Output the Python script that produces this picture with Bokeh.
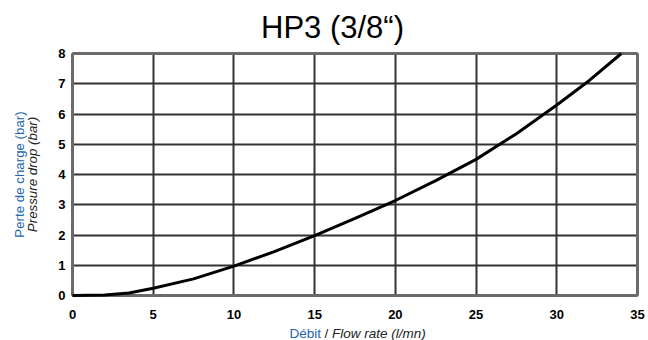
import math
from bokeh.plotting import figure
from bokeh.models import Label, Range1d, FixedTicker, Grid
from bokeh.embed import file_html
from bokeh.resources import INLINE

# Data
flow_rate = [0, 2, 3.5, 5, 7.5, 10, 12.5, 15, 17.5, 20, 22.5, 25, 27.5, 30, 32, 34]
pressure_drop = [0, 0.02, 0.08, 0.24, 0.55, 0.97, 1.45, 1.98, 2.55, 3.14, 3.8, 4.5, 5.35, 6.3, 7.1, 8.0]
x_ticks = [0, 5, 10, 15, 20, 25, 30, 35]
y_ticks = [0, 1, 2, 3, 4, 5, 6, 7, 8]
x_limits = (0, 35)
y_limits = (0, 8)

title_text = "HP3 (3/8\u201c)"
ylabel_fr = "Perte de charge (bar)"
ylabel_en = "Pressure drop (bar)"
xlabel_fr = "D\u00e9bit"
xlabel_sep = "/"
xlabel_en = "Flow rate (l/mn)"

FONT = "Liberation Sans"
BLUE = "#2266b0"
DARK = "#222222"

W, H = 648, 340
# plot area in pixels: left 72, right 637, top 53, bottom 295
px_per_x = (637 - 72) / (x_limits[1] - x_limits[0])
px_per_y = (295 - 53) / (y_limits[1] - y_limits[0])
x_range = Range1d(x_limits[0] - 72 / px_per_x, x_limits[1] + (W - 637) / px_per_x)
y_range = Range1d(y_limits[0] - (H - 295) / px_per_y, y_limits[1] + 53 / px_per_y)

def dx(px):
    return x_limits[0] + (px - 72) / px_per_x

def dy(py):
    return y_limits[0] + (295 - py) / px_per_y

p = figure(width=W, height=H, output_backend="svg", toolbar_location=None,
           x_range=x_range, y_range=y_range,
           min_border=0, min_border_left=0, min_border_right=0,
           min_border_top=0, min_border_bottom=0)
p.background_fill_color = "white"
p.border_fill_color = "white"
p.outline_line_color = None

for ax in (p.xaxis, p.yaxis):
    ax.fixed_location = 0
    ax.axis_line_color = None
    ax.major_tick_line_color = None
    ax.minor_tick_line_color = None
    ax.major_tick_out = 0
    ax.major_tick_in = 0
    ax.major_label_text_font = FONT
    ax.major_label_text_font_style = "bold"
    ax.major_label_text_font_size = "13px"
    ax.major_label_text_color = "black"

p.xaxis.ticker = FixedTicker(ticks=x_ticks)
p.yaxis.ticker = FixedTicker(ticks=y_ticks)
p.xaxis.bounds = x_limits
p.yaxis.bounds = y_limits
p.xaxis.major_label_standoff = 14
p.yaxis.major_label_standoff = 7

p.xgrid.ticker = FixedTicker(ticks=x_ticks)
p.ygrid.ticker = FixedTicker(ticks=y_ticks)
p.xgrid.bounds = x_limits
p.ygrid.bounds = y_limits
p.xgrid.cross_bounds = y_limits
p.ygrid.cross_bounds = x_limits
for g in (p.xgrid, p.ygrid):
    g.grid_line_color = "#333333"
    g.grid_line_width = 2
    g.grid_line_alpha = 1.0

# frame border (thicker, grey)
bx = Grid(dimension=0, ticker=FixedTicker(ticks=list(x_limits)), bounds=x_limits,
          cross_bounds=y_limits, grid_line_color="#6a6a6a", grid_line_width=3)
by = Grid(dimension=1, ticker=FixedTicker(ticks=list(y_limits)), bounds=y_limits,
          cross_bounds=x_limits, grid_line_color="#6a6a6a", grid_line_width=3)
p.add_layout(bx)
p.add_layout(by)

p.line(flow_rate, pressure_drop, line_color="black", line_width=3)

# Title
p.add_layout(Label(x=dx(332), y=dy(26.5), text=title_text, text_font=FONT,
                   text_font_size="31px", text_color="black",
                   text_align="center", text_baseline="alphabetic"))

# Y labels (rotated)
p.add_layout(Label(x=dx(18.5), y=sum(y_limits) / 2, text=ylabel_fr, angle=math.pi / 2,
                   text_font=FONT, text_font_size="13.3px", text_color=BLUE,
                   text_align="center", text_baseline="middle"))
p.add_layout(Label(x=dx(32), y=sum(y_limits) / 2, text=ylabel_en, angle=math.pi / 2,
                   text_font=FONT, text_font_size="13.3px", text_color=DARK,
                   text_font_style="italic",
                   text_align="center", text_baseline="middle"))

# X label pieces
xl_y = dy(332.5)
p.add_layout(Label(x=dx(320.5), y=xl_y, text=xlabel_fr, text_font=FONT,
                   text_font_size="13.5px", text_color=BLUE,
                   text_align="right", text_baseline="alphabetic"))
p.add_layout(Label(x=dx(326), y=xl_y, text=xlabel_sep, text_font=FONT,
                   text_font_size="13.5px", text_color=DARK,
                   text_align="center", text_baseline="alphabetic"))
p.add_layout(Label(x=dx(331.5), y=xl_y, text=xlabel_en, text_font=FONT,
                   text_font_size="13.5px", text_color=DARK, text_font_style="italic",
                   text_align="left", text_baseline="alphabetic"))

open("out.html", "w").write(file_html(p, INLINE))
